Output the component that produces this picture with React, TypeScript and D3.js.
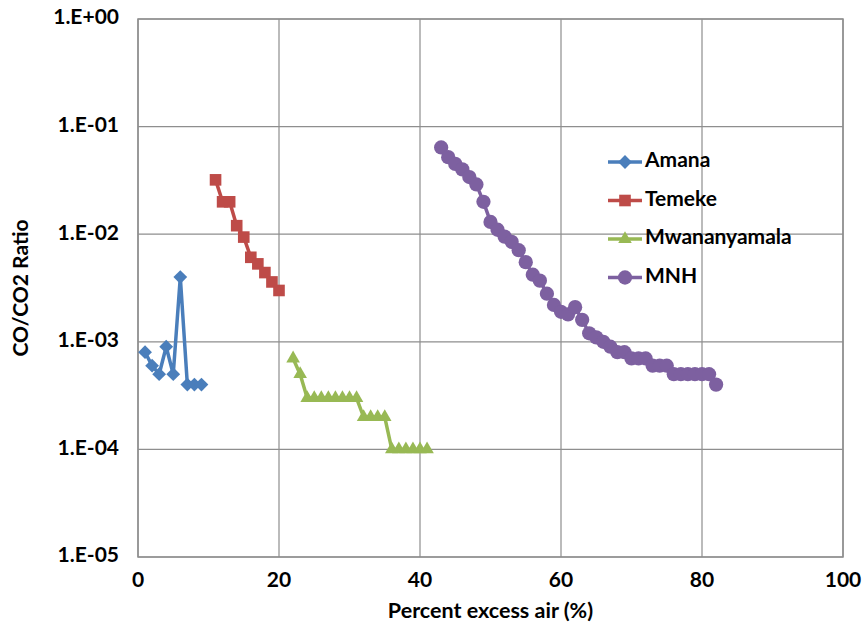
import React from 'react';
import * as d3 from 'd3';

// values
const amanaX = [1, 2, 3, 4, 5, 6, 7, 8, 9];
const amanaY = [8e-4, 6e-4, 5e-4, 9e-4, 5e-4, 4e-3, 4e-4, 4e-4, 4e-4];

const temekeX = [11, 12, 13, 14, 15, 16, 17, 18, 19, 20];
const temekeY = [0.032, 0.02, 0.02, 0.012, 0.0094, 0.0061, 0.0053, 0.0044, 0.0036, 0.003];

const mwanaX = [22, 23, 24, 25, 26, 27, 28, 29, 30, 31, 32, 33, 34, 35, 36, 37, 38, 39, 40, 41];
const mwanaY = [7e-4, 5e-4, 3e-4, 3e-4, 3e-4, 3e-4, 3e-4, 3e-4, 3e-4, 3e-4, 2e-4, 2e-4, 2e-4, 2e-4,
  1e-4, 1e-4, 1e-4, 1e-4, 1e-4, 1e-4];

const mnhX = [43, 44, 45, 46, 47, 48, 49, 50, 51, 52, 53, 54, 55, 56, 57, 58, 59, 60, 61, 62,
  63, 64, 65, 66, 67, 68, 69, 70, 71, 72, 73, 74, 75, 76, 77, 78, 79, 80, 81, 82];
const mnhY = [0.064, 0.052, 0.045, 0.04, 0.034, 0.029, 0.02, 0.013, 0.011, 0.0095, 0.0085, 0.0071,
  0.0055, 0.0042, 0.0037, 0.0028, 0.0022, 0.0019, 0.0018, 0.0021, 0.0016, 0.0012, 0.0011, 0.001,
  9e-4, 8e-4, 8e-4, 7e-4, 7e-4, 7e-4, 6e-4, 6e-4, 6e-4, 5e-4, 5e-4, 5e-4, 5e-4, 5e-4, 5e-4, 4e-4];

const xTicks = [0, 20, 40, 60, 80, 100];
const yTicks = [1, 1e-1, 1e-2, 1e-3, 1e-4, 1e-5];
const yTickLabels = ['1.E+00', '1.E-01', '1.E-02', '1.E-03', '1.E-04', '1.E-05'];

const FONT = 'Lato, "Open Sans", sans-serif';

export default function App() {
  const width = 864;
  const height = 632;
  const plot = { left: 138, right: 843, top: 19, bottom: 557 };

  const xScale = d3.scaleLinear().domain([0, 100]).range([plot.left, plot.right]);
  const yScale = d3.scaleLog().domain([1e-5, 1]).range([plot.bottom, plot.top]);

  const series = [
    { name: 'Amana', xs: amanaX, ys: amanaY, color: '#4A7EBB', type: d3.symbolSquare, size: 95, rot: 45 },
    { name: 'Temeke', xs: temekeX, ys: temekeY, color: '#BE4B48', type: d3.symbolSquare, size: 135, rot: 0 },
    { name: 'Mwananyamala', xs: mwanaX, ys: mwanaY, color: '#98B954', type: d3.symbolTriangle, size: 80, rot: 0 },
    { name: 'MNH', xs: mnhX, ys: mnhY, color: '#7D60A0', type: d3.symbolCircle, size: 160, rot: 0 },
  ];

  const line = d3.line<[number, number]>()
    .x(d => xScale(d[0]))
    .y(d => yScale(d[1]));

  const legendX = 625;
  const legendY = 162;
  const legendStep = 38.5;

  return (
    <svg width={width} height={height} style={{ position: 'absolute', left: 0, top: 0, background: '#fff' }}
      fontFamily={FONT} fontWeight="bold">
      {/* gridlines */}
      {xTicks.map(t => (
        <line key={'gx' + t} x1={xScale(t)} x2={xScale(t)} y1={plot.top} y2={plot.bottom}
          stroke="#8E8E8E" strokeWidth={1.2} />
      ))}
      {yTicks.map(t => (
        <line key={'gy' + t} x1={plot.left} x2={plot.right} y1={yScale(t)} y2={yScale(t)}
          stroke="#8E8E8E" strokeWidth={1.2} />
      ))}
      <rect x={plot.left} y={plot.top} width={plot.right - plot.left} height={plot.bottom - plot.top}
        fill="none" stroke="#8E8E8E" strokeWidth={1.5} />

      {/* series */}
      {series.map(s => {
        const pts = s.xs.map((v, i) => [v, s.ys[i]] as [number, number]);
        const sym = d3.symbol().type(s.type).size(s.size)();
        return (
          <g key={s.name}>
            <path d={line(pts) || ''} fill="none" stroke={s.color} strokeWidth={3.5} strokeLinejoin="round" />
            {pts.map((p, i) => (
              <path key={i} d={sym || ''} fill={s.color}
                transform={`translate(${xScale(p[0])},${yScale(p[1])}) rotate(${s.rot})`} />
            ))}
          </g>
        );
      })}

      {/* axes labels */}
      {xTicks.map(t => (
        <text key={'tx' + t} x={xScale(t)} y={582} textAnchor="middle" dominantBaseline="middle"
          fontSize={21}>{t}</text>
      ))}
      {yTicks.map((t, i) => (
        <text key={'ty' + t} x={119} y={yScale(t)} textAnchor="end" dominantBaseline="middle"
          fontSize={21}>{yTickLabels[i]}</text>
      ))}
      <text x={(plot.left + plot.right) / 2} y={612} textAnchor="middle" dominantBaseline="middle"
        fontSize={21.5}>Percent excess air (%)</text>
      <text transform={`translate(23,${(plot.top + plot.bottom) / 2}) rotate(-90)`} textAnchor="middle"
        dominantBaseline="middle" fontSize={21}>CO/CO2 Ratio</text>

      {/* legend */}
      {series.map((s, i) => {
        const cy = legendY + i * legendStep;
        const sym = d3.symbol().type(s.type).size(s.size)();
        return (
          <g key={'lg' + s.name}>
            <line x1={legendX - 17} x2={legendX + 17} y1={cy} y2={cy} stroke={s.color} strokeWidth={3.5} />
            <path d={sym || ''} fill={s.color} transform={`translate(${legendX},${cy}) rotate(${s.rot})`} />
            <text x={legendX + 20} y={cy} dominantBaseline="middle" fontSize={21}>{s.name}</text>
          </g>
        );
      })}
    </svg>
  );
}
